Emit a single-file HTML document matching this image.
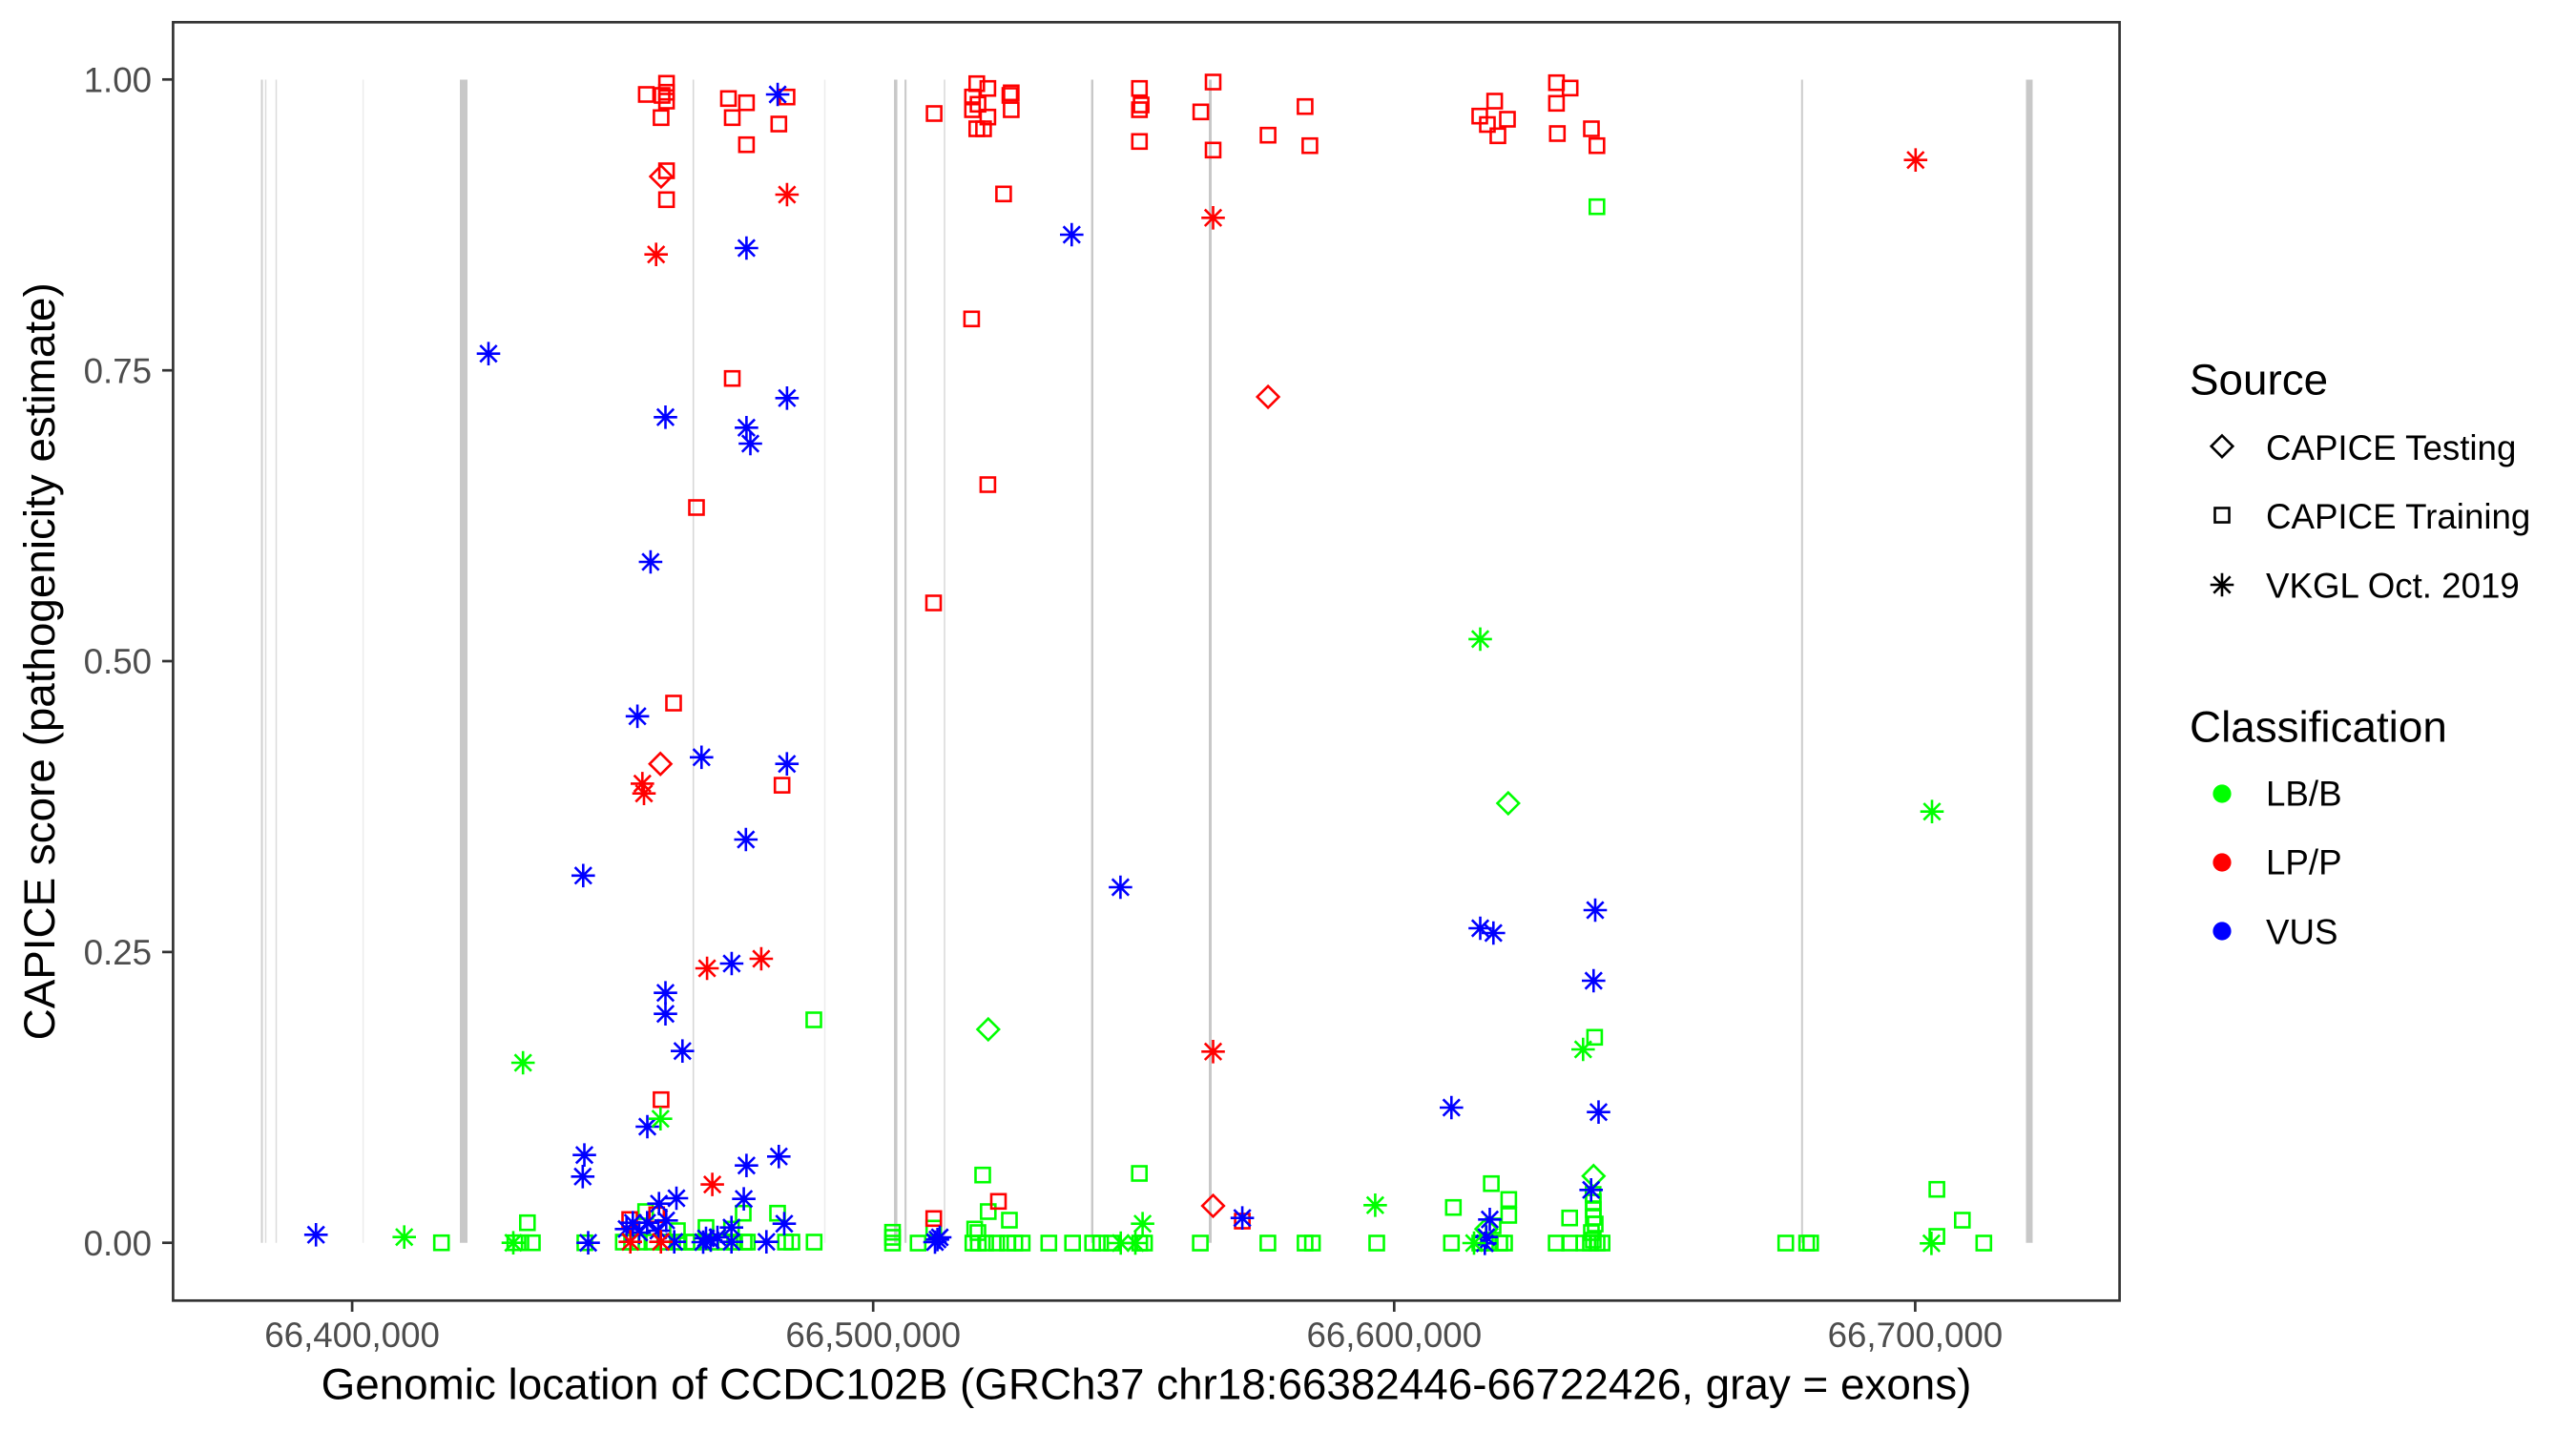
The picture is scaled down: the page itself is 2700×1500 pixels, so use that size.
<!DOCTYPE html>
<html><head><meta charset="utf-8"><style>
html,body{margin:0;padding:0;background:#fff;}
svg{display:block;}
text{font-family:"Liberation Sans",Arial,sans-serif;}
</style></head><body>
<svg width="2700" height="1500" viewBox="0 0 2700 1500" xmlns="http://www.w3.org/2000/svg">
<defs>
<rect id="s" x="-7.5" y="-7.5" width="15" height="15" fill="none"/>
<path id="d" d="M0,-11.3 L11.3,0 L0,11.3 L-11.3,0Z" fill="none"/>
<path id="a" d="M0,-12.3V12.3M-12.3,0H12.3M-8.7,-8.7L8.7,8.7M-8.7,8.7L8.7,-8.7" fill="none"/>
</defs>
<rect width="2700" height="1500" fill="#fff"/>
<!-- exons -->
<g stroke-linecap="butt">
<line x1="274.5" y1="83.5" x2="274.5" y2="1302.7" stroke="#cfcfcf" stroke-width="2"/>
<line x1="278.5" y1="83.5" x2="278.5" y2="1302.7" stroke="#dcdcdc" stroke-width="1.5"/>
<line x1="289.5" y1="83.5" x2="289.5" y2="1302.7" stroke="#dcdcdc" stroke-width="1.5"/>
<line x1="380.6" y1="83.5" x2="380.6" y2="1302.7" stroke="#ececec" stroke-width="1.5"/>
<line x1="486" y1="83.5" x2="486" y2="1302.7" stroke="#c8c8c8" stroke-width="8"/>
<line x1="726.7" y1="83.5" x2="726.7" y2="1302.7" stroke="#d6d6d6" stroke-width="1.5"/>
<line x1="864.5" y1="83.5" x2="864.5" y2="1302.7" stroke="#ececec" stroke-width="1.5"/>
<line x1="938.8" y1="83.5" x2="938.8" y2="1302.7" stroke="#c8c8c8" stroke-width="3.5"/>
<line x1="949.1" y1="83.5" x2="949.1" y2="1302.7" stroke="#cccccc" stroke-width="2.2"/>
<line x1="990" y1="83.5" x2="990" y2="1302.7" stroke="#d8d8d8" stroke-width="1.5"/>
<line x1="1144.8" y1="83.5" x2="1144.8" y2="1302.7" stroke="#c8c8c8" stroke-width="2.4"/>
<line x1="1268.5" y1="83.5" x2="1268.5" y2="1302.7" stroke="#c8c8c8" stroke-width="3"/>
<line x1="1888.8" y1="83.5" x2="1888.8" y2="1302.7" stroke="#cccccc" stroke-width="2"/>
<line x1="2127" y1="83.5" x2="2127" y2="1302.7" stroke="#c8c8c8" stroke-width="7"/>
</g>
<!-- green squares -->
<g stroke="#00ff00" stroke-width="2.6">
<use href="#s" x="462.7" y="1302.7"/><use href="#s" x="539.6" y="1302.7"/><use href="#s" x="546" y="1302.7"/><use href="#s" x="558" y="1302.7"/><use href="#s" x="552.8" y="1281.7"/><use href="#s" x="613" y="1302.7"/><use href="#s" x="853" y="1069"/>
<use href="#s" x="676.7" y="1270"/><use href="#s" x="815" y="1271.7"/><use href="#s" x="779" y="1271.7"/><use href="#s" x="740" y="1286.7"/><use href="#s" x="766.7" y="1288.3"/><use href="#s" x="710" y="1290"/>
<use href="#s" x="653.3" y="1302"/><use href="#s" x="662" y="1302"/><use href="#s" x="670" y="1302"/><use href="#s" x="683.3" y="1302"/><use href="#s" x="696.7" y="1302"/><use href="#s" x="710" y="1302"/><use href="#s" x="720" y="1302"/><use href="#s" x="726.7" y="1302"/><use href="#s" x="745" y="1302"/><use href="#s" x="760" y="1302"/><use href="#s" x="770" y="1302"/><use href="#s" x="780" y="1302"/><use href="#s" x="783.3" y="1302"/><use href="#s" x="823.3" y="1302"/><use href="#s" x="830" y="1302"/><use href="#s" x="853.3" y="1302"/>
<use href="#s" x="1673.8" y="216.7"/>
<use href="#s" x="1030" y="1231.7"/><use href="#s" x="1194.2" y="1230"/><use href="#s" x="1035.8" y="1270"/><use href="#s" x="1058" y="1279"/><use href="#s" x="978.7" y="1287.3"/><use href="#s" x="935.5" y="1291.7"/><use href="#s" x="935.5" y="1297"/><use href="#s" x="1021.6" y="1288.3"/><use href="#s" x="1025" y="1292"/>
<use href="#s" x="935.5" y="1303"/><use href="#s" x="962.3" y="1303"/><use href="#s" x="1019.7" y="1303"/><use href="#s" x="1025.4" y="1303"/><use href="#s" x="1033.1" y="1303"/><use href="#s" x="1044.6" y="1303"/><use href="#s" x="1056" y="1303"/><use href="#s" x="1063.7" y="1303"/><use href="#s" x="1071.4" y="1303"/><use href="#s" x="1099.3" y="1303"/><use href="#s" x="1124.2" y="1303"/><use href="#s" x="1145.2" y="1303"/><use href="#s" x="1153.6" y="1303"/><use href="#s" x="1165.1" y="1303"/><use href="#s" x="1194.6" y="1303"/><use href="#s" x="1199.6" y="1303"/><use href="#s" x="1258.1" y="1303"/><use href="#s" x="1328.9" y="1303"/><use href="#s" x="1367.9" y="1303"/><use href="#s" x="1375.6" y="1303"/><use href="#s" x="1443" y="1303"/>
<use href="#s" x="1671.4" y="1087.3"/><use href="#s" x="1669.8" y="1252"/><use href="#s" x="1670" y="1260"/><use href="#s" x="1670" y="1268"/><use href="#s" x="1670" y="1276"/><use href="#s" x="1672" y="1283"/><use href="#s" x="1668" y="1292"/><use href="#s" x="1670" y="1300"/><use href="#s" x="1563.1" y="1240.7"/><use href="#s" x="1581.4" y="1257.3"/><use href="#s" x="1581.4" y="1274"/><use href="#s" x="1523.3" y="1265.7"/><use href="#s" x="1645.2" y="1276.7"/><use href="#s" x="1565" y="1285"/>
<use href="#s" x="1521.3" y="1303"/><use href="#s" x="1551" y="1303"/><use href="#s" x="1560" y="1303"/><use href="#s" x="1572" y="1303"/><use href="#s" x="1577" y="1303"/><use href="#s" x="1631.1" y="1303"/><use href="#s" x="1645.2" y="1303"/><use href="#s" x="1660" y="1303"/><use href="#s" x="1667" y="1303"/><use href="#s" x="1674" y="1303"/><use href="#s" x="1679.2" y="1303"/><use href="#s" x="1871.7" y="1303"/><use href="#s" x="1893.6" y="1303"/><use href="#s" x="1897.8" y="1303"/><use href="#s" x="2079.3" y="1303"/>
<use href="#s" x="2030.1" y="1246.7"/><use href="#s" x="2056.8" y="1279"/><use href="#s" x="2030.1" y="1296"/>
</g>
<!-- red squares -->
<g stroke="#ff0000" stroke-width="2.6">
<use href="#s" x="677.4" y="99"/><use href="#s" x="698.6" y="87.3"/><use href="#s" x="698.6" y="96.7"/><use href="#s" x="694" y="100"/><use href="#s" x="698.6" y="106"/><use href="#s" x="692.9" y="123.3"/><use href="#s" x="763.5" y="103.3"/><use href="#s" x="782.4" y="107.7"/><use href="#s" x="767.5" y="123.3"/><use href="#s" x="824.9" y="101.7"/><use href="#s" x="816.3" y="130"/><use href="#s" x="782.4" y="151.7"/><use href="#s" x="698.6" y="179"/><use href="#s" x="698.6" y="209.3"/>
<use href="#s" x="979.1" y="119"/><use href="#s" x="1023.8" y="87.7"/><use href="#s" x="1035.4" y="92.7"/><use href="#s" x="1019.3" y="101.7"/><use href="#s" x="1019.3" y="115"/><use href="#s" x="1025.1" y="109.3"/><use href="#s" x="1035.4" y="122.7"/><use href="#s" x="1023.8" y="135"/><use href="#s" x="1030.9" y="135"/><use href="#s" x="1059.9" y="97.3"/><use href="#s" x="1058.5" y="100"/><use href="#s" x="1059.9" y="115"/><use href="#s" x="1194.3" y="92.7"/><use href="#s" x="1196.1" y="110"/><use href="#s" x="1194.3" y="115"/><use href="#s" x="1194.3" y="148.3"/><use href="#s" x="1271.5" y="86"/><use href="#s" x="1258.6" y="117.3"/><use href="#s" x="1271.5" y="157.3"/><use href="#s" x="1367.9" y="111.7"/><use href="#s" x="1329.1" y="141.7"/><use href="#s" x="1372.9" y="152.7"/>
<use href="#s" x="1566.6" y="106"/><use href="#s" x="1551" y="121.7"/><use href="#s" x="1559" y="130.5"/><use href="#s" x="1570" y="142.3"/><use href="#s" x="1580" y="125"/><use href="#s" x="1631.4" y="86.7"/><use href="#s" x="1645.7" y="92.3"/><use href="#s" x="1631.4" y="108.3"/><use href="#s" x="1632.3" y="140"/><use href="#s" x="1668" y="135"/><use href="#s" x="1673.8" y="152.7"/>
<use href="#s" x="767.5" y="396.7"/><use href="#s" x="730" y="532"/><use href="#s" x="706" y="737"/><use href="#s" x="819.7" y="823.1"/><use href="#s" x="692.9" y="1152.7"/><use href="#s" x="1051.9" y="203.3"/><use href="#s" x="1018.4" y="334.3"/><use href="#s" x="1035.4" y="508"/><use href="#s" x="978.5" y="632"/>
<use href="#s" x="660" y="1278.3"/><use href="#s" x="688.3" y="1273.3"/><use href="#s" x="1046.5" y="1259.3"/><use href="#s" x="978.7" y="1277.3"/><use href="#s" x="1302.1" y="1280"/>
</g>
<!-- diamonds -->
<g stroke="#00ff00" stroke-width="2.6">
<use href="#d" x="1035.8" y="1079"/><use href="#d" x="1580.8" y="842"/><use href="#d" x="1670.3" y="1232.7"/><use href="#d" x="1557.9" y="1288.3"/>
</g>
<g stroke="#ff0000" stroke-width="2.6">
<use href="#d" x="692.9" y="185"/><use href="#d" x="1329.1" y="416"/><use href="#d" x="692.2" y="800.7"/><use href="#d" x="1271.5" y="1264"/>
</g>
<!-- blue asterisks -->
<g stroke="#0000ff" stroke-width="2.6">
<use href="#a" x="815.1" y="99"/><use href="#a" x="782.4" y="260"/><use href="#a" x="512" y="370.7"/><use href="#a" x="697.5" y="437.3"/><use href="#a" x="824.9" y="417.3"/><use href="#a" x="782.4" y="448.3"/><use href="#a" x="786.5" y="465"/><use href="#a" x="1123.3" y="246"/><use href="#a" x="681.9" y="589"/><use href="#a" x="668.1" y="750.8"/><use href="#a" x="735.3" y="793.8"/><use href="#a" x="824.8" y="800.7"/><use href="#a" x="611.3" y="917.8"/><use href="#a" x="781.8" y="880"/><use href="#a" x="766.9" y="1010"/><use href="#a" x="697.5" y="1040.7"/><use href="#a" x="697.5" y="1062.7"/><use href="#a" x="715.3" y="1101.7"/><use href="#a" x="678.5" y="1181"/><use href="#a" x="612.5" y="1210.7"/><use href="#a" x="610.8" y="1233.3"/><use href="#a" x="782.4" y="1221.7"/><use href="#a" x="816.3" y="1212.3"/><use href="#a" x="779.6" y="1256.7"/><use href="#a" x="822" y="1282.7"/><use href="#a" x="331.2" y="1294.3"/><use href="#a" x="616.5" y="1302.7"/>
<use href="#a" x="709" y="1256"/><use href="#a" x="690.7" y="1261.7"/><use href="#a" x="663.3" y="1281.7"/><use href="#a" x="678.3" y="1281.7"/><use href="#a" x="698.3" y="1279.3"/><use href="#a" x="656.7" y="1288.3"/><use href="#a" x="766.7" y="1286.7"/><use href="#a" x="706.7" y="1301.7"/><use href="#a" x="740" y="1298"/><use href="#a" x="745" y="1300"/><use href="#a" x="752" y="1297"/><use href="#a" x="737" y="1302"/><use href="#a" x="766.7" y="1301.7"/><use href="#a" x="803.3" y="1301.7"/><use href="#a" x="670" y="1292"/><use href="#a" x="690" y="1290"/>
<use href="#a" x="982.6" y="1299.3"/><use href="#a" x="980" y="1302"/><use href="#a" x="985" y="1297"/><use href="#a" x="1302.1" y="1276.7"/><use href="#a" x="1174.4" y="930"/>
<use href="#a" x="1521.3" y="1161"/><use href="#a" x="1675.5" y="1165.7"/><use href="#a" x="1667.7" y="1247.3"/><use href="#a" x="1561.5" y="1278.3"/><use href="#a" x="1557.9" y="1296.7"/><use href="#a" x="1556.3" y="1303.3"/><use href="#a" x="1551.5" y="973"/><use href="#a" x="1565.3" y="978"/><use href="#a" x="1672" y="954"/><use href="#a" x="1670.3" y="1028"/>
</g>
<!-- green asterisks -->
<g stroke="#00ff00" stroke-width="2.6">
<use href="#a" x="548.2" y="1114"/><use href="#a" x="692.3" y="1172.7"/><use href="#a" x="423.7" y="1296.7"/><use href="#a" x="538" y="1302.7"/><use href="#a" x="1441.4" y="1263.3"/><use href="#a" x="1197.6" y="1282.7"/><use href="#a" x="1174.7" y="1303"/><use href="#a" x="1190" y="1303"/><use href="#a" x="1659.3" y="1100"/><use href="#a" x="1551.5" y="669.9"/><use href="#a" x="2025" y="850.7"/><use href="#a" x="2024.4" y="1303.3"/><use href="#a" x="1545" y="1303"/>
</g>
<!-- red asterisks -->
<g stroke="#ff0000" stroke-width="2.6">
<use href="#a" x="824.9" y="204"/><use href="#a" x="687.7" y="266.7"/><use href="#a" x="1271.5" y="228.3"/><use href="#a" x="2007.8" y="167.7"/><use href="#a" x="673.3" y="821.4"/><use href="#a" x="675" y="831.7"/><use href="#a" x="741.1" y="1015"/><use href="#a" x="797.9" y="1005"/><use href="#a" x="746.6" y="1241.6"/><use href="#a" x="660.7" y="1301.7"/><use href="#a" x="692.7" y="1301.7"/><use href="#a" x="1271.5" y="1102.3"/>
</g>
<!-- panel border -->
<rect x="181.4" y="23.3" width="2040.2" height="1340" fill="none" stroke="#333333" stroke-width="2.7"/>
<!-- y ticks -->
<g stroke="#333333" stroke-width="2.7">
<line x1="170" y1="83.3" x2="181.4" y2="83.3"/>
<line x1="170" y1="388.2" x2="181.4" y2="388.2"/>
<line x1="170" y1="693" x2="181.4" y2="693"/>
<line x1="170" y1="997.9" x2="181.4" y2="997.9"/>
<line x1="170" y1="1302.7" x2="181.4" y2="1302.7"/>
<line x1="369.1" y1="1363.3" x2="369.1" y2="1375"/>
<line x1="915.2" y1="1363.3" x2="915.2" y2="1375"/>
<line x1="1461.3" y1="1363.3" x2="1461.3" y2="1375"/>
<line x1="2007.4" y1="1363.3" x2="2007.4" y2="1375"/>
</g>
<g font-size="36.7" fill="#4d4d4d" text-anchor="end">
<text x="159" y="96.5">1.00</text>
<text x="159" y="401.4">0.75</text>
<text x="159" y="706.2">0.50</text>
<text x="159" y="1011.1">0.25</text>
<text x="159" y="1315.9">0.00</text>
</g>
<g font-size="36.7" fill="#4d4d4d" text-anchor="middle">
<text x="369.1" y="1412">66,400,000</text>
<text x="915.2" y="1412">66,500,000</text>
<text x="1461.3" y="1412">66,600,000</text>
<text x="2007.4" y="1412">66,700,000</text>
</g>
<text x="1201.5" y="1466.5" font-size="45.8" fill="#000" text-anchor="middle">Genomic location of CCDC102B (GRCh37 chr18:66382446-66722426, gray = exons)</text>
<text x="57" y="693.3" font-size="45.8" fill="#000" text-anchor="middle" transform="rotate(-90 57 693.3)">CAPICE score (pathogenicity estimate)</text>
<!-- legend -->
<text x="2295" y="413.5" font-size="45.8" fill="#000">Source</text>
<g stroke="#000" stroke-width="2.6">
<use href="#d" x="2329" y="467.8"/>
<use href="#s" x="2329" y="540"/>
<use href="#a" x="2329" y="613"/>
</g>
<g font-size="36.7" fill="#000">
<text x="2375" y="482.2">CAPICE Testing</text>
<text x="2375" y="554.2">CAPICE Training</text>
<text x="2375" y="626.3">VKGL Oct. 2019</text>
</g>
<text x="2295" y="777.7" font-size="45.8" fill="#000">Classification</text>
<circle cx="2329" cy="832" r="9.6" fill="#00ff00"/>
<circle cx="2329" cy="904" r="9.6" fill="#ff0000"/>
<circle cx="2329" cy="976" r="9.6" fill="#0000ff"/>
<g font-size="36.7" fill="#000">
<text x="2375" y="844.4">LB/B</text>
<text x="2375" y="916.4">LP/P</text>
<text x="2375" y="989.6">VUS</text>
</g>
</svg>
</body></html>
